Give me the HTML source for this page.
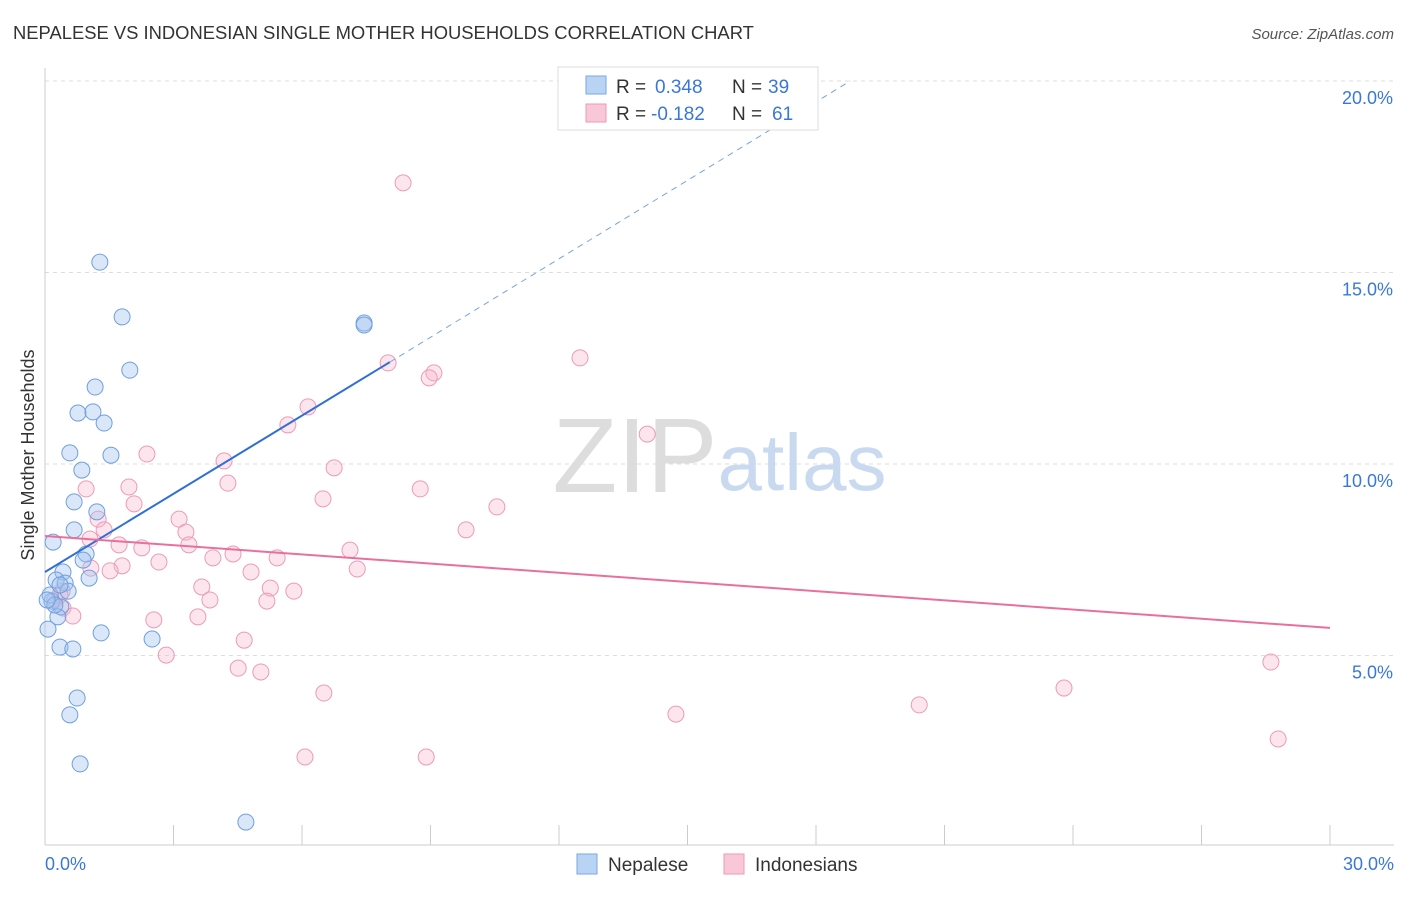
<!DOCTYPE html>
<html><head><meta charset="utf-8"><style>
body{margin:0;background:#fff;font-family:"Liberation Sans",sans-serif;}
svg text{font-family:"Liberation Sans",sans-serif;}
</style></head><body>
<svg width="1406" height="892" viewBox="0 0 1406 892" xmlns="http://www.w3.org/2000/svg">
<text x="13" y="39" font-size="18.4" fill="#333">NEPALESE VS INDONESIAN SINGLE MOTHER HOUSEHOLDS CORRELATION CHART</text>
<text x="1394" y="39" font-size="15" fill="#555" font-style="italic" text-anchor="end">Source: ZipAtlas.com</text>
<g id="grid"></g>
<g>
<text x="635" y="492" font-size="106" fill="#ddd" font-family="Liberation Serif, serif" text-anchor="middle">ZIP</text>
<text x="802" y="490" font-size="80" fill="#c9daf0" text-anchor="middle">atlas</text>
</g>
<line x1="45" y1="68" x2="45" y2="845" stroke="#ccc"/>
<line x1="45" y1="845" x2="1394" y2="845" stroke="#ccc"/>
<g id="ticks"></g>
<g id="marks"></g>
<text x="34" y="455" font-size="18" fill="#333" text-anchor="middle" transform="rotate(-90 34 455)">Single Mother Households</text>
<text x="45" y="870" font-size="18" fill="#3a78d6">0.0%</text>
<text x="1394" y="870" font-size="18" fill="#3a78d6" text-anchor="end">30.0%</text>
<g>
<rect x="558" y="67" width="260" height="63" fill="#fff" stroke="#ddd"/>
<rect x="586" y="76" width="20" height="18" fill="#b9d3f5" stroke="#7aa7e0"/>
<rect x="586" y="104" width="20" height="18" fill="#f9c8d8" stroke="#eb9ab5"/>
<text y="93" font-size="19" fill="#333"><tspan x="616">R =</tspan><tspan x="655" fill="#3a78d6">0.348</tspan><tspan x="732">N =</tspan><tspan x="768" fill="#3a78d6">39</tspan></text>
<text y="120" font-size="19" fill="#333"><tspan x="616">R =</tspan><tspan x="651" fill="#3a78d6">-0.182</tspan><tspan x="732">N =</tspan><tspan x="772" fill="#3a78d6">61</tspan></text>
</g>
<g>
<rect x="577" y="854" width="20" height="20" fill="#b9d3f5" stroke="#7aa7e0"/>
<text x="608" y="871" font-size="19" fill="#333">Nepalese</text>
<rect x="724" y="854" width="20" height="20" fill="#f9c8d8" stroke="#eb9ab5"/>
<text x="755" y="871" font-size="19" fill="#333">Indonesians</text>
</g>
</svg>
<script>
const yTicks=[5,10,15,20];
const yTickLabels=["5.0%","10.0%","15.0%","20.0%"];
const nepX=[1.28,1.80,7.45,7.45,1.98,1.17,0.77,1.12,1.38,0.58,1.54,0.86,0.68,1.21,0.68,0.19,0.96,0.89,0.42,0.26,0.47,1.03,0.54,0.16,0.37,0.30,0.07,1.31,2.50,0.35,0.65,0.75,0.58,0.82,4.69,0.12,0.35,0.23,0.05];
const nepY=[15.27,13.84,13.68,13.63,12.45,12.01,11.33,11.36,11.07,10.29,10.23,9.84,9.01,8.75,8.28,7.96,7.65,7.49,7.18,6.97,6.89,7.02,6.68,6.42,6.27,6.01,5.69,5.59,5.43,5.22,5.17,3.89,3.45,2.17,0.65,6.58,6.84,6.32,6.45];
const indX=[8.36,12.49,8.01,9.08,8.97,6.14,5.67,14.06,2.38,4.18,6.75,0.96,1.96,4.27,8.76,6.49,2.08,10.55,1.24,3.13,1.38,3.29,9.83,3.36,1.73,2.26,7.12,4.39,3.92,5.42,2.66,1.80,1.07,1.52,7.29,4.81,3.66,5.26,5.81,0.40,3.85,5.18,0.42,0.65,3.57,2.54,4.65,2.83,28.62,4.51,5.04,6.51,23.79,20.41,14.73,6.07,8.90,28.79,0.23,0.35,1.05];
const indY=[17.34,12.77,12.64,12.38,12.25,11.49,11.02,10.78,10.26,10.08,9.90,9.35,9.40,9.50,9.35,9.09,8.96,8.88,8.56,8.56,8.28,8.22,8.28,7.89,7.89,7.81,7.75,7.65,7.55,7.55,7.44,7.34,7.28,7.21,7.26,7.18,6.79,6.76,6.68,6.68,6.45,6.42,6.24,6.03,6.01,5.93,5.40,5.01,4.83,4.67,4.57,4.02,4.15,3.71,3.47,2.35,2.35,2.82,6.45,6.58,8.04];
const nepLine=[[0,7.18],[8.05,12.66]];
const nepDash=[[8.05,12.66],[18.8,20.0]];
const indLine=[[0,8.12],[30,5.72]];
const xTicks=[3,6,9,12,15,18,21,24,27,30];
const NS="http://www.w3.org/2000/svg";
const sx=v=>45+v/30*1285;
const sy=v=>847-v*38.3;
function mk(t,a,p){const e=document.createElementNS(NS,t);for(const k in a)e.setAttribute(k,a[k]);p.appendChild(e);return e;}
const grid=document.getElementById('grid');
yTicks.forEach((t,i)=>{
 const l=mk('line',{x1:45,x2:1394,y1:sy(t),y2:sy(t),stroke:'#ddd','stroke-dasharray':'4,4'},grid);
 
 
 const tx=mk('text',{x:1393,y:sy(t)+23,'font-size':18,fill:'#3a78d6','text-anchor':'end'},grid);
 tx.textContent=yTickLabels[i];
 
 
});
const ticks=document.getElementById('ticks');
xTicks.forEach(t=>{
 const l=mk('line',{x1:sx(t),x2:sx(t),y1:825,y2:845,stroke:'#ccc'},ticks);
 
 
});
const marks=document.getElementById('marks');
indX.forEach((x,i)=>{
 const c=mk('circle',{cx:sx(x),cy:sy(indY[i]),r:8,fill:'rgba(246,180,202,0.35)',stroke:'#ec9bb7','stroke-width':1},marks);
 
 
});
nepX.forEach((x,i)=>{
 const c=mk('circle',{cx:sx(x),cy:sy(nepY[i]),r:8,fill:'rgba(160,195,240,0.4)',stroke:'#6f9fde','stroke-width':1},marks);
 
 
});
const l1=mk('line',{x1:sx(nepLine[0][0]),y1:sy(nepLine[0][1]),x2:sx(nepLine[1][0]),y2:sy(nepLine[1][1]),stroke:'#2f6fd6','stroke-width':2},marks);


const l2=mk('line',{x1:sx(nepDash[0][0]),y1:sy(nepDash[0][1]),x2:sx(nepDash[1][0]),y2:sy(nepDash[1][1]),stroke:'#7aa3dc','stroke-width':1,'stroke-dasharray':'6,5'},marks);


const l3=mk('line',{x1:sx(indLine[0][0]),y1:sy(indLine[0][1]),x2:sx(indLine[1][0]),y2:sy(indLine[1][1]),stroke:'#e8709a','stroke-width':2},marks);


</script>
</body></html>
